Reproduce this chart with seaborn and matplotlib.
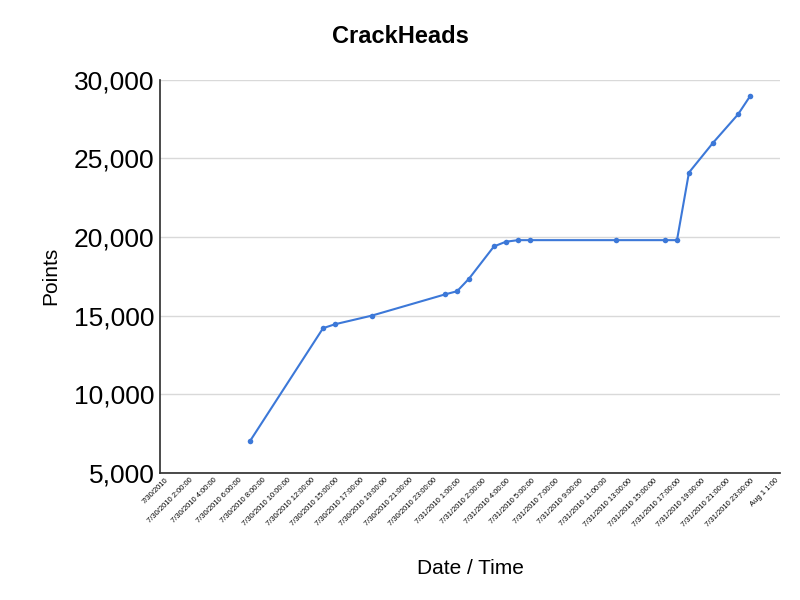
import matplotlib
matplotlib.use("Agg")
import matplotlib.pyplot as plt
import seaborn as sns
import pandas as pd

tick_labels = ["7/30/2010", "7/30/2010 2:00:00", "7/30/2010 4:00:00", "7/30/2010 6:00:00",
               "7/30/2010 8:00:00", "7/30/2010 10:00:00", "7/30/2010 12:00:00", "7/30/2010 15:00:00",
               "7/30/2010 17:00:00", "7/30/2010 19:00:00", "7/30/2010 21:00:00", "7/30/2010 23:00:00",
               "7/31/2010 1:00:00", "7/31/2010 2:00:00", "7/31/2010 4:00:00", "7/31/2010 5:00:00",
               "7/31/2010 7:00:00", "7/31/2010 9:00:00", "7/31/2010 11:00:00", "7/31/2010 13:00:00",
               "7/31/2010 15:00:00", "7/31/2010 17:00:00", "7/31/2010 19:00:00", "7/31/2010 21:00:00",
               "7/31/2010 23:00:00", "Aug 1 1:00"]
time_pos = [3.48, 6.48, 6.97, 8.48, 11.48, 11.97, 12.46, 13.48, 13.97, 14.47, 14.96,
            18.48, 20.49, 20.98, 21.47, 22.46, 23.48, 23.97]
points = [7000, 14200, 14450, 15000, 16350, 16550, 17350, 19400, 19700, 19800, 19800,
          19800, 19800, 19800, 24100, 26000, 27800, 28950]

df = pd.DataFrame({"t": time_pos, "Points": points})
sns.set_theme(style="white")
plt.rcParams['font.family'] = ['Liberation Sans', 'DejaVu Sans']
plt.rcParams['text.color'] = 'black'
plt.rcParams['axes.labelcolor'] = 'black'
plt.rcParams['xtick.color'] = 'black'
plt.rcParams['ytick.color'] = 'black'
fig = plt.figure(figsize=(8, 6), dpi=100)
ax = fig.add_axes([0.2, 0.212, 0.775, 0.655])
sns.lineplot(data=df, x="t", y="Points", ax=ax, color="#3c78d8", marker="o",
             markersize=4, markeredgewidth=0, linewidth=1.5)
ax.set_xlim(-0.2, 25.2)
ax.set_ylim(5000, 30000)
ax.set_yticks(range(5000, 30001, 5000))
ax.set_yticklabels([f"{v:,}" for v in range(5000, 30001, 5000)], fontsize=19)
ax.set_xticks(range(len(tick_labels)))
ax.set_xticklabels(tick_labels, rotation=45, ha="right", rotation_mode="anchor", fontsize=5.5)
ax.tick_params(axis="x", length=0, pad=3)
ax.tick_params(axis="y", length=0, pad=4)
ax.grid(axis="y", color="#d9d9d9", linewidth=1)
for s in ["top", "right"]:
    ax.spines[s].set_visible(False)
ax.spines["left"].set_color("#333333")
ax.spines["bottom"].set_color("#333333")
ax.set_xlabel("Date / Time", fontsize=15, labelpad=22)
ax.set_ylabel("Points", fontsize=15, labelpad=10)
fig.suptitle("CrackHeads", fontsize=17, fontweight="bold", y=0.958)
fig.savefig("out.png", dpi=100)
